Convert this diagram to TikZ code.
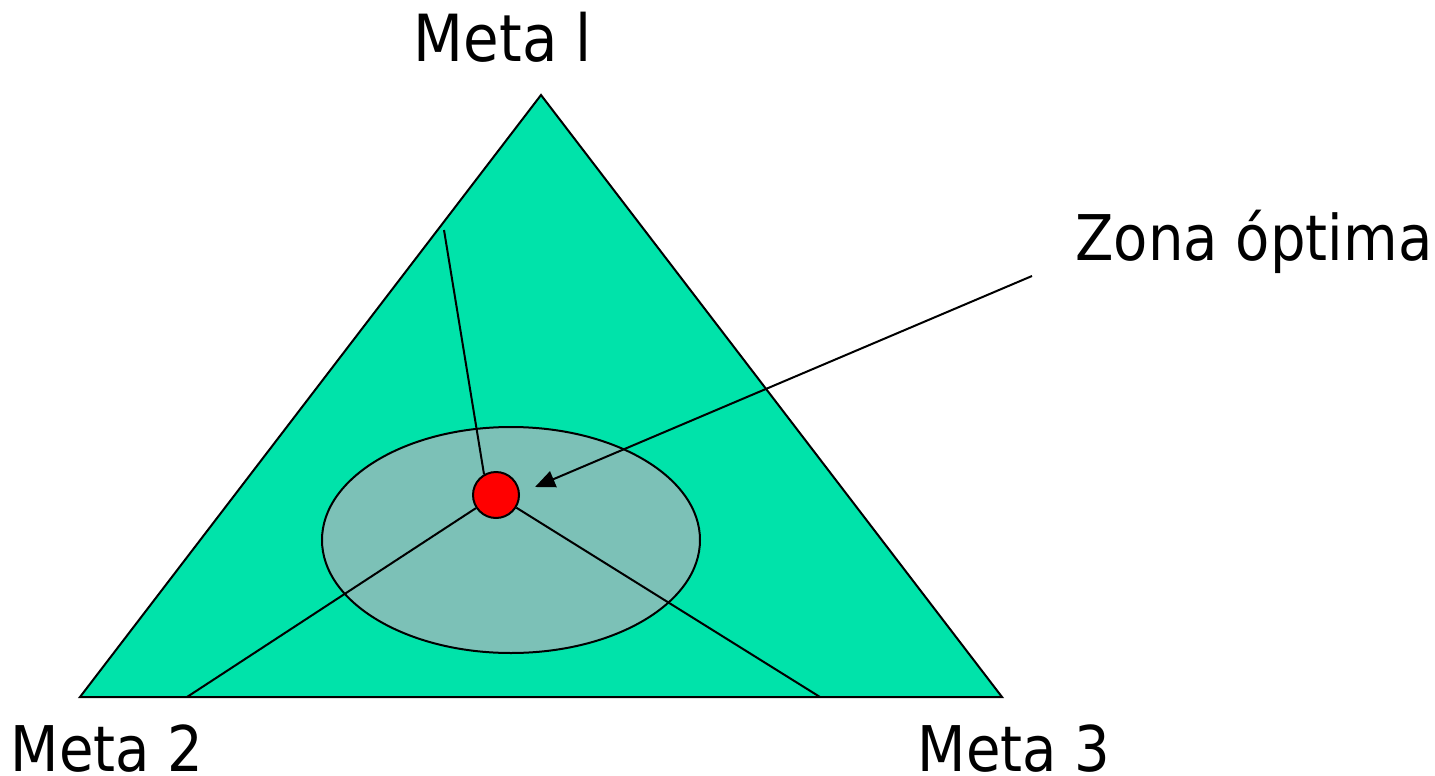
\documentclass[tikz,border=0pt]{standalone}
\usepackage{fontspec}
\setmainfont{DejaVu Sans}[FakeStretch=0.89]
\usepackage{tikz}
\usetikzlibrary{arrows.meta,positioning,shapes.geometric}
\definecolor{field}{HTML}{00E3AA}
\definecolor{zonefill}{HTML}{7CC1B7}

\begin{document}
\begin{tikzpicture}[x=1pt,y=-1pt,>=Triangle,
  goal/.style={anchor=base,inner sep=0pt,font=\fontsize{63}{75}\selectfont},
  edge/.style={draw=black,line width=2pt,line join=miter},
  ray/.style={black,line width=2pt},
  pointer/.style={->,black,line width=2pt,>={Triangle[length=20pt,width=17pt]}}]
 \useasboundingbox (0,0) rectangle (1435,776);
 % triangle corners
 \coordinate (top) at (541,95);
 \coordinate (bl) at (80,697);
 \coordinate (br) at (1002,697);
 \fill[field] (top) -- (bl) -- (br) -- cycle;
 \node[ellipse,draw=black,line width=2pt,fill=zonefill,minimum width=378pt,minimum height=226pt,inner sep=0pt] (zone) at (511,540) {};
 \node[circle,draw=black,line width=2pt,fill=red,minimum size=46pt,inner sep=0pt] (dot) at (496,495) {};
 % ends of the three rays
 \coordinate (r1) at (444,230);
 \coordinate (r2) at (187,697);
 \coordinate (r3) at (820,697);
 \draw[ray] (dot.120) -- (r1);
 \draw[ray] (dot) -- (r2);
 \draw[ray] (dot) -- (r3);
 \draw[edge] (top) -- (bl) -- (br) -- cycle;
 % labels
 \node[goal,font=\fontsize{65}{78}\selectfont] (m1) at (503,62) {Meta l};
 \node[goal] (m2) at (107,771) {Meta 2};
 \node[goal] (m3) at (1014,771) {Meta 3};
 \node[goal] (zl) at (1254,260) {Zona óptima};
 \coordinate (zs) at (1032,276);
 \coordinate (zt) at (535,487);
 \draw[pointer] (zs) -- (zt);
\end{tikzpicture}
\end{document}
